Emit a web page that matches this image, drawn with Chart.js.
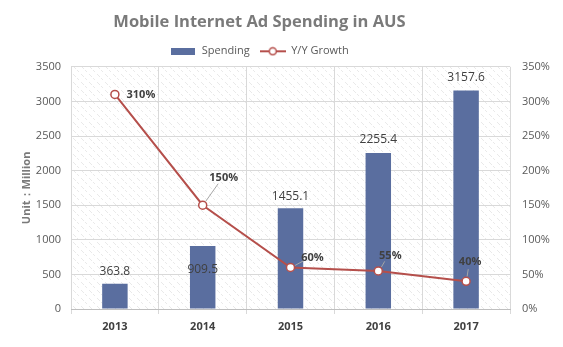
<!DOCTYPE html>
<html>
<head>
<meta charset="utf-8">
<script src="https://cdn.jsdelivr.net/npm/chart.js@4/dist/chart.umd.min.js"></script>
<style>
  html, body { margin: 0; padding: 0; background: #fff; }
  #wrap { width: 563px; height: 347px; }
</style>
</head>
<body>
<div id="wrap"><canvas id="adChart"></canvas></div>
<script>
// data
const years = ['2013', '2014', '2015', '2016', '2017'];
const spending = [363.8, 909.5, 1455.1, 2255.4, 3157.6];   // million
const growth = [310, 150, 60, 55, 40];                       // percent
const spendMax = 3500, spendStep = 500;
const growthMax = 350, growthStep = 50;

const FONT = '"Open Sans", "DejaVu Sans", sans-serif';
const BAR = '#5a6e9f';
const LINE = '#b54f4b';

// small canvases used as legend markers
function legendBar() {
  const c = document.createElement('canvas');
  c.width = 24; c.height = 7;
  const g = c.getContext('2d');
  g.fillStyle = BAR;
  g.fillRect(0, 0, 24, 7);
  return c;
}
function legendLine() {
  const c = document.createElement('canvas');
  c.width = 26; c.height = 10;
  const g = c.getContext('2d');
  g.strokeStyle = LINE; g.lineWidth = 2;
  g.beginPath(); g.moveTo(0, 5); g.lineTo(26, 5); g.stroke();
  g.fillStyle = '#fff'; g.lineWidth = 1.5;
  g.beginPath(); g.arc(13, 5, 3.5, 0, Math.PI * 2); g.fill(); g.stroke();
  return c;
}

// faint hatch pattern behind the plot, like the excel fill
function hatch(ctx) {
  const c = document.createElement('canvas');
  c.width = 8; c.height = 8;
  const g = c.getContext('2d');
  g.strokeStyle = '#e9e9e9'; g.lineWidth = 1;
  g.beginPath(); g.moveTo(1, 2); g.lineTo(4, 5); g.stroke();
  g.beginPath(); g.moveTo(5, 6); g.lineTo(7, 8); g.stroke();
  return ctx.createPattern(c, 'repeat');
}

const backdrop = {
  id: 'backdrop',
  afterLayout(chart) {
    // title and legend sit a bit left of the canvas centre in the original
    chart.titleBlock.right -= 44;
    chart.legend.right -= 44;
  },
  beforeDraw(chart) {
    const { ctx, chartArea: a } = chart;
    ctx.save();
    ctx.fillStyle = '#fff';
    ctx.fillRect(0, 0, chart.width, chart.height);
    ctx.fillStyle = hatch(ctx);
    ctx.fillRect(a.left, a.top, a.right - a.left, a.bottom - a.top);
    ctx.restore();
  }
};

// value labels (bars plain, line bold with leader lines)
const valueLabels = {
  id: 'valueLabels',
  afterDatasetsDraw(chart) {
    const ctx = chart.ctx;
    ctx.save();
    ctx.fillStyle = '#404040';
    ctx.textBaseline = 'middle';

    const barDy = [-12, 24, -12, -13, -13];
    ctx.font = '12px ' + FONT;
    ctx.textAlign = 'center';
    chart.getDatasetMeta(0).data.forEach((el, i) => {
      ctx.fillText(spending[i].toFixed(1), el.x, el.y + barDy[i]);
    });

    // label offset from point, and whether a leader line is drawn
    const place = [
      { dx: 26, dy: 0, lead: false },
      { dx: 21, dy: -27, lead: true },
      { dx: 22, dy: -10, lead: true },
      { dx: 12, dy: -15, lead: true },
      { dx: 4, dy: -19, lead: true }
    ];
    ctx.font = 'bold 11px ' + FONT;
    chart.getDatasetMeta(1).data.forEach((el, i) => {
      const p = place[i];
      const tx = el.x + p.dx, ty = el.y + p.dy;
      if (p.lead) {
        ctx.strokeStyle = '#a6a6a6';
        ctx.lineWidth = 1;
        ctx.beginPath();
        const len = Math.hypot(p.dx, p.dy);
        ctx.moveTo(el.x + p.dx / len * 5, el.y + p.dy / len * 5);
        ctx.lineTo(tx - p.dx / len * 9, ty - p.dy / len * 7);
        ctx.stroke();
      }
      ctx.fillText(growth[i] + '%', tx, ty);
    });
    ctx.restore();
  }
};

new Chart(document.getElementById('adChart'), {
  data: {
    labels: years,
    datasets: [
      {
        type: 'bar',
        label: 'Spending',
        data: spending,
        backgroundColor: BAR,
        barPercentage: 0.29,
        categoryPercentage: 1,
        yAxisID: 'y',
        order: 1
      },
      {
        type: 'line',
        label: 'Y/Y Growth',
        data: growth,
        borderColor: LINE,
        borderWidth: 2,
        pointRadius: 4,
        pointBorderWidth: 1.5,
        pointBackgroundColor: '#fff',
        pointBorderColor: LINE,
        yAxisID: 'y2',
        order: 0
      }
    ]
  },
  options: {
    responsive: true,
    maintainAspectRatio: false,
    animation: false,
    layout: { padding: 0 },
    plugins: {
      title: {
        display: true,
        text: 'Mobile Internet Ad Spending in AUS',
        color: '#7a7a7a',
        font: { family: FONT, size: 16.5, weight: 'bold' },
        padding: { top: 12, bottom: 4 }
      },
      legend: {
        position: 'top',
        labels: {
          usePointStyle: true,
          pointStyleWidth: 26,
          padding: 10,
          color: '#595959',
          font: { family: FONT, size: 11 },
          sort: (a, b) => a.datasetIndex - b.datasetIndex,
          generateLabels(chart) {
            const items = Chart.defaults.plugins.legend.labels.generateLabels(chart);
            items.forEach(it => {
              it.pointStyle = it.datasetIndex === 0 ? legendBar() : legendLine();
            });
            return items;
          }
        }
      },
      tooltip: { enabled: false }
    },
    scales: {
      x: {
        offset: true,
        grid: { offset: true, color: '#d9d9d9', tickLength: 5, drawOnChartArea: true },
        border: { color: '#bfbfbf' },
        ticks: { color: '#404040', padding: 6, font: { family: FONT, size: 11, weight: 'bold' } },
        afterFit(s) { s.height = 38; }
      },
      y: {
        position: 'left',
        min: 0,
        max: spendMax,
        ticks: {
          stepSize: spendStep,
          color: '#595959',
          padding: 10,
          font: { family: FONT, size: 11 },
          callback: v => String(v)
        },
        grid: { color: '#d9d9d9', drawTicks: false },
        border: { display: false },
        title: {
          display: true,
          text: 'Unit：Million',
          color: '#7a7a7a',
          font: { family: FONT, size: 11, weight: 'bold' },
          padding: { top: 20, bottom: 0 }
        },
        afterFit(s) { s.width = 71; }
      },
      y2: {
        position: 'right',
        min: 0,
        max: growthMax,
        ticks: {
          stepSize: growthStep,
          color: '#595959',
          padding: 12,
          font: { family: FONT, size: 11 },
          callback: v => v + '%'
        },
        grid: { drawOnChartArea: false, drawTicks: false },
        border: { display: false },
        afterFit(s) { s.width = 53; }
      }
    }
  },
  plugins: [backdrop, valueLabels]
});
</script>
</body>
</html>
